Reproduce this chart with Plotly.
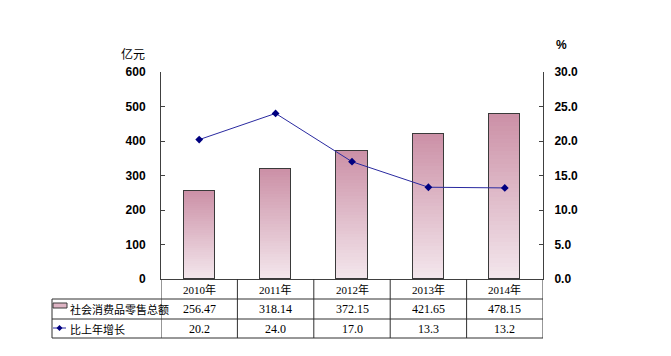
import plotly.graph_objects as go

years = ["2010年", "2011年", "2012年", "2013年", "2014年"]
retail = [256.47, 318.14, 372.15, 421.65, 478.15]
growth = [20.2, 24.0, 17.0, 13.3, 13.2]
retail_labels = ["256.47", "318.14", "372.15", "421.65", "478.15"]
growth_labels = ["20.2", "24.0", "17.0", "13.3", "13.2"]
name_bar = "社会消费品零售总额"
name_line = "比上年增长"

OFF = 8  # default page body margin
W, H = 671 - OFF, 356 - OFF
L, R, T, B = 161, 543, 72, 279  # plot area in page pixels
def px(X): return (X - L) / (R - L)
def py(Y): return (B - Y) / (B - T)

fig = go.Figure()

# gradient bars via stacked segments
N = 40
top = (204, 145, 167)
bot = (243, 230, 236)
xs = list(range(len(years)))
for i in range(N):
    t = i / (N - 1)
    c = tuple(round(bot[k] + (top[k] - bot[k]) * t) for k in range(3))
    fig.add_trace(go.Bar(
        x=xs, y=[v / N for v in retail], width=0.41,
        marker=dict(color="rgb(%d,%d,%d)" % c, line=dict(width=0)),
        showlegend=False, hoverinfo="skip", xaxis="x", yaxis="y"))
# outline
fig.add_trace(go.Bar(
    x=xs, y=retail, width=0.41, name=name_bar,
    marker=dict(color="rgba(0,0,0,0)", line=dict(color="#3a3a3a", width=1)),
    showlegend=False, xaxis="x", yaxis="y2"))
# line
fig.add_trace(go.Scatter(
    x=xs, y=growth, mode="lines+markers", name=name_line,
    line=dict(color="#2a2aa0", width=1),
    marker=dict(symbol="diamond", size=6, color="#000080"),
    showlegend=False, xaxis="x", yaxis="y3"))

tf = dict(family="Liberation Sans, Arial", size=12, color="black", weight="bold")
fig.update_layout(
    width=W, height=H,
    margin=dict(l=L - OFF, r=671 - R, t=T - OFF, b=356 - B),
    paper_bgcolor="white", plot_bgcolor="white",
    barmode="stack", bargap=0,
    showlegend=False,
    xaxis=dict(range=[-0.5, len(years) - 0.5], showticklabels=False, ticks="",
               showgrid=False, zeroline=False, showline=True, linecolor="#404040",
               linewidth=1, fixedrange=True),
    yaxis=dict(range=[0, 600], dtick=100, tickfont=tf,
               ticks="inside", ticklen=4, tickcolor="#404040", showgrid=False, zeroline=False,
               showline=True, linecolor="#404040", linewidth=1, ticklabelstandoff=12),
    yaxis2=dict(range=[0, 600], overlaying="y", visible=False),
    yaxis3=dict(range=[0, 30], dtick=5, tickformat=".1f", side="right", overlaying="y",
                tickfont=tf,
                ticks="inside", ticklen=4, tickcolor="#404040", showgrid=False, zeroline=False,
                showline=True, linecolor="#404040", linewidth=1, ticklabelstandoff=8),
)

shapes = []
ann = []
lc = "#303030"
for Y in (299, 319, 338):
    shapes.append(dict(type="line", xref="paper", yref="paper", x0=px(52), x1=px(R),
                       y0=py(Y), y1=py(Y), line=dict(color=lc, width=1)))
shapes.append(dict(type="line", xref="paper", yref="paper", x0=px(52), x1=px(52),
                   y0=py(299), y1=py(338), line=dict(color=lc, width=1)))
for k in range(len(years) + 1):
    shapes.append(dict(type="line", xref="x", yref="paper", x0=k - 0.5, x1=k - 0.5,
                       y0=py(279), y1=py(338), line=dict(color=lc, width=1)))
# legend swatches
shapes.append(dict(type="rect", xref="paper", yref="paper", x0=px(53), x1=px(67),
                   y0=py(303), y1=py(308), fillcolor="rgb(222,180,196)",
                   line=dict(color="#3a3a3a", width=1)))
shapes.append(dict(type="line", xref="paper", yref="paper", x0=px(53), x1=px(66),
                   y0=py(328), y1=py(328), line=dict(color="#2a2aa0", width=1)))
shapes.append(dict(type="path", xref="paper", yref="paper",
                   path="M %f %f L %f %f L %f %f L %f %f Z" % (
                       px(56.5), py(328), px(59.5), py(325), px(62.5), py(328), px(59.5), py(331)),
                   fillcolor="#000080", line=dict(width=0)))

numfont = dict(family="Liberation Serif, Noto Sans CJK SC", size=12, color="black")
cjkfont = dict(family="Noto Sans CJK SC", size=11, color="black")
def A(**kw):
    d = dict(showarrow=False, xanchor="center", yanchor="middle")
    d.update(kw)
    ann.append(d)
for i in range(len(years)):
    A(x=i, xref="x", y=py(289), yref="paper", text=years[i],
      font=dict(family="Liberation Serif, Noto Sans CJK SC", size=11, color="black"))
    A(x=i, xref="x", y=py(309), yref="paper", text=retail_labels[i], font=numfont)
    A(x=i, xref="x", y=py(328.5), yref="paper", text=growth_labels[i], font=numfont)
A(x=px(68), xref="paper", y=py(309), yref="paper", text=name_bar, xanchor="left", font=cjkfont)
A(x=px(68), xref="paper", y=py(328.5), yref="paper", text=name_line, xanchor="left", font=cjkfont)
A(x=px(133), xref="paper", y=py(53), yref="paper", text="亿元",
  font=dict(family="Noto Sans CJK SC", size=12, color="black"))
A(x=px(561), xref="paper", y=py(45), yref="paper", text="%",
  font=dict(family="Liberation Sans", size=12, color="black", weight="bold"))

fig.update_layout(shapes=shapes, annotations=ann)
fig.write_html("out.html")
